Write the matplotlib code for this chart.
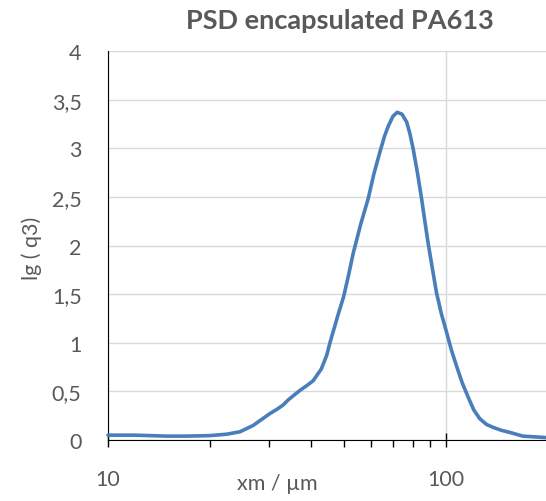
import matplotlib
matplotlib.use("Agg")
import matplotlib.pyplot as plt
from matplotlib.ticker import FixedLocator, NullFormatter, FuncFormatter

plt.rcParams['font.family'] = ['Lato', 'DejaVu Sans']

x_um = [10, 12, 14.9, 17, 20, 22.5, 24.6, 26.9, 30.1, 31.6, 33.0, 34.1, 35.5, 37.0, 38.8, 40.5,
        42.8, 44.4, 45.4, 47.0, 48.1, 49.8, 51.5, 53.2, 56.0, 58.9, 61.3, 63.8, 65.8, 67.6,
        69.8, 71.8, 74.2, 76.6, 78.3, 80.1, 82.5, 84.8, 86.7, 88.6, 91.2, 93.8, 97.0, 100.5,
        103.8, 107.6, 111.8, 116.5, 121, 126, 132, 138, 146, 154, 169, 198]
lg_q3 = [0.05, 0.05, 0.04, 0.04, 0.045, 0.06, 0.085, 0.15, 0.27, 0.315, 0.36, 0.41, 0.46, 0.51, 0.56, 0.61,
         0.73, 0.87, 1.00, 1.18, 1.30, 1.47, 1.69, 1.92, 2.22, 2.48, 2.74, 2.96, 3.12, 3.23,
         3.33, 3.37, 3.35, 3.27, 3.15, 2.99, 2.74, 2.48, 2.25, 2.03, 1.77, 1.52, 1.30, 1.11,
         0.93, 0.76, 0.59, 0.44, 0.31, 0.22, 0.16, 0.13, 0.10, 0.08, 0.04, 0.025]

y_ticks = [0, 0.5, 1, 1.5, 2, 2.5, 3, 3.5, 4]
x_major = [10, 100]
x_minor = [20, 30, 40, 50, 60, 70, 80, 90]

gray = '#595959'
fig = plt.figure(figsize=(5.46, 5.02), dpi=100)
ax = fig.add_axes([0.1978, 0.1215, 0.8022, 0.7749])
ax.plot(x_um, lg_q3, color='#4A7EBB', lw=2.6, solid_capstyle='round', solid_joinstyle='round', clip_on=False, zorder=3)
ax.set_xscale('log')
ax.set_xlim(10, 198)
ax.set_ylim(0, 4)

ax.xaxis.set_major_locator(FixedLocator(x_major))
ax.xaxis.set_minor_locator(FixedLocator(x_minor))
ax.xaxis.set_minor_formatter(NullFormatter())
ax.xaxis.set_major_formatter(FuncFormatter(lambda v, p: f"{v:g}"))
ax.set_yticks(y_ticks)
ax.yaxis.set_major_formatter(FuncFormatter(lambda v, p: f"{v:g}".replace('.', ',')))

ax.grid(True, axis='y', color='#d9d9d9', lw=1)
ax.grid(True, axis='x', which='major', color='#d9d9d9', lw=1)
ax.set_axisbelow(True)

for s in ['top', 'right']:
    ax.spines[s].set_visible(False)
ax.spines['left'].set_color('black')
ax.spines['bottom'].set_color('black')

ax.tick_params(axis='y', length=0, pad=19, labelsize=15.5, labelcolor=gray)
ax.tick_params(axis='x', which='major', direction='inout', length=10, width=1, pad=16, labelsize=15.5, labelcolor=gray)
ax.tick_params(axis='x', which='minor', direction='out', length=5, width=1)

fig.text(32/546, 1 - 248/502, 'lg ( q3)', fontsize=15.5, color=gray, ha='center', va='center', rotation=90)
fig.text(277/546, 1 - 484/502, 'xm / µm', fontsize=15.5, color=gray, ha='center', va='center')
fig.text(340/546, 1 - 21/502, 'PSD encapsulated PA613', fontsize=19.5, fontweight='bold', color=gray, ha='center', va='center')

fig.savefig('out.png', dpi=100)
